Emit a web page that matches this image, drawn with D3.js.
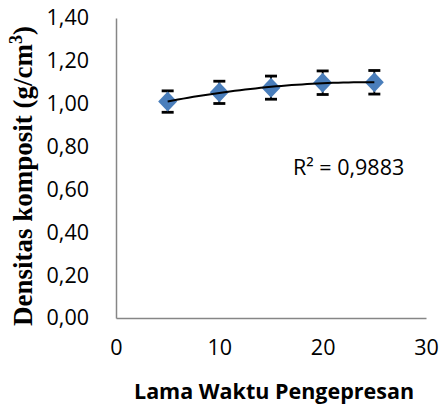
<!DOCTYPE html>
<html>
<head>
<meta charset="utf-8">
<script src="https://cdn.jsdelivr.net/npm/d3@7"></script>
<style>
body { margin: 0; background: #fff; }
</style>
</head>
<body>
<div id="chart"></div>
<script>
// lama pengepresan (x) dan densitas
var waktu = [5, 10, 15, 20, 25];
var densitas = [1.01, 1.053, 1.075, 1.098, 1.10];
var galat = [0.05, 0.052, 0.054, 0.055, 0.055];
var yTicks = [0, 0.2, 0.4, 0.6, 0.8, 1.0, 1.2, 1.4];
var xTicks = [0, 10, 20, 30];
var r2Label = "R² = 0,9883";

var width = 441,
    height = 409;

var x = d3.scaleLinear().domain([0, 30]).range([116, 426]);
var y = d3.scaleLinear().domain([0, 1.4]).range([318, 18]);

var svg = d3.select("#chart")
    .append("svg")
    .attr("width", width)
    .attr("height", height);

var fmt = function (d) { return d.toFixed(2).replace(".", ","); };

// axes without tick marks
var yAxis = svg.append("g")
    .attr("transform", "translate(" + x(0) + ",0)")
    .call(d3.axisLeft(y).tickValues(yTicks).tickSize(0).tickPadding(27).tickFormat(fmt));
var xAxis = svg.append("g")
    .attr("transform", "translate(0," + y(0) + ")")
    .call(d3.axisBottom(x).tickValues(xTicks).tickSize(0).tickPadding(22));

[xAxis, yAxis].forEach(function (a) {
    a.select(".domain").attr("stroke", "#868686").attr("stroke-width", 1.5);
    a.selectAll("text")
        .attr("font-family", "Open Sans, sans-serif")
        .attr("font-size", 21.5)
        .attr("fill", "#000");
});

// polynomial trendline (order 2), least squares from the data
function polyFit(xs, ys) {
    var n = xs.length, S = [0, 0, 0, 0, 0], T = [0, 0, 0];
    for (var i = 0; i < n; i++) {
        for (var k = 0; k < 5; k++) S[k] += Math.pow(xs[i], k);
        for (var k = 0; k < 3; k++) T[k] += ys[i] * Math.pow(xs[i], k);
    }
    var A = [[S[0], S[1], S[2], T[0]], [S[1], S[2], S[3], T[1]], [S[2], S[3], S[4], T[2]]];
    for (var c = 0; c < 3; c++) {
        for (var r = c + 1; r < 3; r++) {
            var f = A[r][c] / A[c][c];
            for (var j = c; j < 4; j++) A[r][j] -= f * A[c][j];
        }
    }
    var b = [0, 0, 0];
    for (var r = 2; r >= 0; r--) {
        var s = A[r][3];
        for (var j = r + 1; j < 3; j++) s -= A[r][j] * b[j];
        b[r] = s / A[r][r];
    }
    return b;
}
var coef = polyFit(waktu, densitas);
var trend = d3.range(0, 41).map(function (i) {
    var t = 5 + i * 0.5;
    return [t, coef[0] + coef[1] * t + coef[2] * t * t];
});

// error bars
var eb = svg.append("g").attr("stroke", "#000").attr("stroke-width", 1.8);
waktu.forEach(function (t, i) {
    var cx = x(t), y1 = y(densitas[i] + galat[i]), y2 = y(densitas[i] - galat[i]);
    eb.append("line").attr("x1", cx).attr("x2", cx).attr("y1", y1).attr("y2", y2);
    eb.append("line").attr("x1", cx - 6).attr("x2", cx + 6).attr("y1", y1).attr("y2", y1).attr("stroke-width", 2.8);
    eb.append("line").attr("x1", cx - 6).attr("x2", cx + 6).attr("y1", y2).attr("y2", y2).attr("stroke-width", 2.8);
});

// markers
svg.selectAll(".pt")
    .data(waktu)
    .enter().append("path")
    .attr("class", "pt")
    .attr("d", "M0,-10L9.5,0L0,10L-9.5,0Z")
    .attr("transform", function (d, i) { return "translate(" + x(d) + "," + y(densitas[i]) + ")"; })
    .attr("fill", "#4A7EBB");

svg.append("path")
    .datum(trend)
    .attr("fill", "none")
    .attr("stroke", "#000")
    .attr("stroke-width", 2)
    .attr("d", d3.line().x(function (d) { return x(d[0]); }).y(function (d) { return y(d[1]); }));

svg.append("text")
    .attr("x", 293)
    .attr("y", 175)
    .attr("font-family", "Open Sans, sans-serif")
    .attr("font-size", 21.5)
    .text(r2Label);

// axis titles
svg.append("text")
    .attr("x", 274)
    .attr("y", 399)
    .attr("text-anchor", "middle")
    .attr("font-family", "Open Sans, sans-serif")
    .attr("font-weight", "bold")
    .attr("font-size", 21.5)
    .text("Lama Waktu Pengepresan");

var yt = svg.append("text")
    .attr("transform", "translate(32,176) rotate(-90)")
    .attr("text-anchor", "middle")
    .attr("font-family", "Liberation Serif, Times New Roman, serif")
    .attr("font-weight", "bold")
    .attr("font-size", 27);
yt.append("tspan").text("Densitas komposit (g/cm");
yt.append("tspan").attr("font-size", 18).attr("dy", -10).text("3");
yt.append("tspan").attr("dy", 10).text(")");
</script>
</body>
</html>
